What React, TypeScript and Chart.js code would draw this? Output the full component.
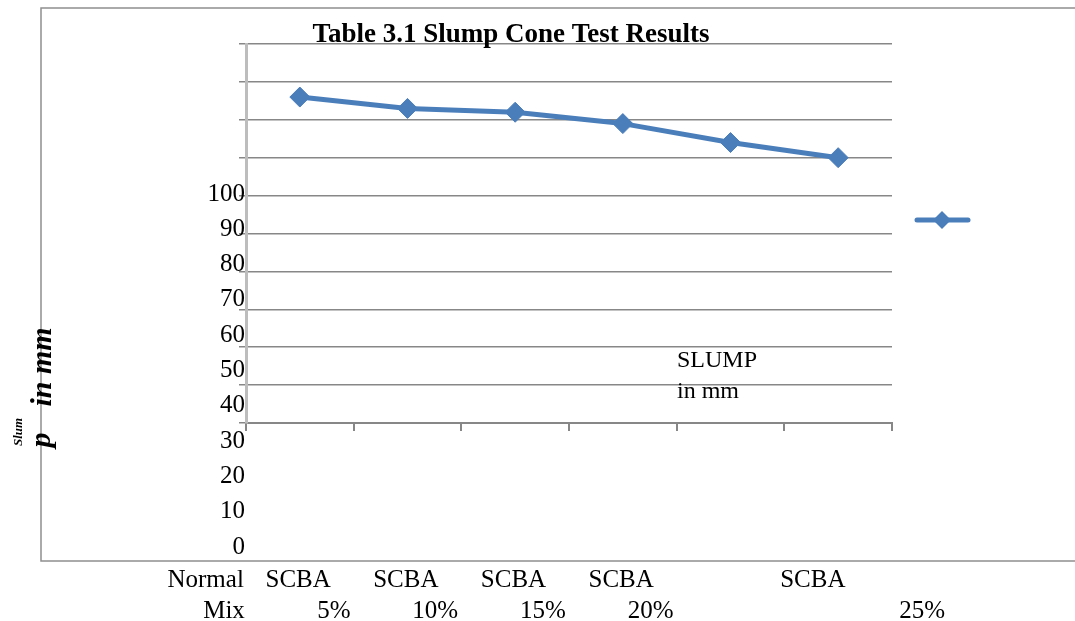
import React, { useEffect, useRef } from 'react';
import { Chart, registerables } from 'chart.js';

Chart.register(...registerables);

const titleText = 'Table 3.1 Slump Cone Test Results';
const categoryLine1 = ['Normal', 'SCBA', 'SCBA', 'SCBA', 'SCBA', 'SCBA'];
const categoryLine2 = ['Mix', '5%', '10%', '15%', '20%', '25%'];
const slumpValues = [86, 83, 82, 79, 74, 70];
const yTickValues = [100, 90, 80, 70, 60, 50, 40, 30, 20, 10, 0];
const seriesName = ['SLUMP', 'in mm'];
const axisTitleParts = ['Slum', 'p', 'in mm'];

const SERIF = "'Liberation Serif', 'Times New Roman', serif";
const BLUE = '#4a7ebb';
const GRID = '#878787';

export default function App() {
  const ref = useRef<HTMLCanvasElement>(null);

  useEffect(() => {
    const canvas = ref.current;
    if (!canvas) return;

    const decor = {
      id: 'decor',
      beforeDraw(chart: any) {
        const ctx = chart.ctx;
        const a = chart.chartArea;
        ctx.save();
        ctx.fillStyle = '#ffffff';
        ctx.fillRect(0, 0, chart.width, chart.height);
        // outer frame
        ctx.strokeStyle = '#8f8f8f';
        ctx.lineWidth = 1.5;
        ctx.beginPath();
        ctx.moveTo(chart.width + 2, a.top - 36);
        ctx.lineTo(a.left - 205, a.top - 36);
        ctx.lineTo(a.left - 205, a.bottom + 138);
        ctx.lineTo(chart.width + 2, a.bottom + 138);
        ctx.stroke();
        ctx.restore();
      },
      afterDraw(chart: any) {
        const ctx = chart.ctx;
        const a = chart.chartArea;
        const xs = chart.scales.x;
        ctx.save();
        ctx.fillStyle = '#000000';

        // title
        ctx.font = `bold 27px ${SERIF}`;
        ctx.textAlign = 'center';
        ctx.textBaseline = 'alphabetic';
        ctx.fillText(titleText, a.left + 265, a.top - 2);

        // y tick label column (displaced, as in the reference)
        ctx.font = `25px ${SERIF}`;
        ctx.textAlign = 'right';
        const y0 = a.bottom + 122;
        const y100 = a.top + 148;
        yTickValues.forEach((v) => {
          const y = y0 + ((y100 - y0) * v) / 100;
          ctx.fillText(String(v), a.left - 1, y + 8.5);
        });

        // category labels (displaced, as in the reference)
        const l1Off = [-56, -142, -142, -142, -142, -58];
        const l1Align = ['right', 'left', 'left', 'left', 'left', 'left'];
        const l2Off = [-55, -57, -57, -57, -57, 107];
        categoryLine1.forEach((t, i) => {
          const c = xs.getPixelForValue(i);
          ctx.textAlign = l1Align[i] as CanvasTextAlign;
          ctx.fillText(t, c + l1Off[i], a.bottom + 164);
        });
        categoryLine2.forEach((t, i) => {
          const c = xs.getPixelForValue(i);
          ctx.textAlign = 'right';
          ctx.fillText(t, c + l2Off[i], a.bottom + 195);
        });

        // series label inside plot
        ctx.font = `24px ${SERIF}`;
        ctx.textAlign = 'left';
        ctx.fillText(seriesName[0], a.left + 431, a.top + 323);
        ctx.fillText(seriesName[1], a.left + 431, a.top + 354);

        // legend sample
        const ly = a.top + 176;
        ctx.strokeStyle = BLUE;
        ctx.lineWidth = 5;
        ctx.lineCap = 'round';
        ctx.beginPath();
        ctx.moveTo(a.right + 25, ly);
        ctx.lineTo(a.right + 76, ly);
        ctx.stroke();
        ctx.fillStyle = BLUE;
        const lx = a.right + 50;
        const r = 9;
        ctx.beginPath();
        ctx.moveTo(lx, ly - r);
        ctx.lineTo(lx + r, ly);
        ctx.lineTo(lx, ly + r);
        ctx.lineTo(lx - r, ly);
        ctx.closePath();
        ctx.fill();

        // garbled y-axis title
        ctx.fillStyle = '#000000';
        const drawRot = (text: string, x: number, y: number, font: string) => {
          ctx.save();
          ctx.translate(x, y);
          ctx.rotate(-Math.PI / 2);
          ctx.font = font;
          ctx.textAlign = 'center';
          ctx.textBaseline = 'alphabetic';
          ctx.fillText(text, 0, 0);
          ctx.restore();
        };
        drawRot(axisTitleParts[2], a.left - 195, a.top + 323, `italic bold 30px ${SERIF}`);
        drawRot(axisTitleParts[1], a.left - 196, a.top + 396, `italic bold 30px ${SERIF}`);
        drawRot(axisTitleParts[0], a.left - 224, a.top + 388, `italic bold 13px ${SERIF}`);

        ctx.restore();
      },
    };

    const chart = new Chart(canvas, {
      type: 'line',
      data: {
        labels: categoryLine1.map((t, i) => `${t} ${categoryLine2[i]}`),
        datasets: [
          {
            label: seriesName.join(' '),
            data: slumpValues,
            borderColor: BLUE,
            backgroundColor: BLUE,
            borderWidth: 5,
            pointStyle: 'rectRot',
            pointRadius: 10,
            pointBorderWidth: 1,
            pointBackgroundColor: BLUE,
            pointBorderColor: BLUE,
            tension: 0,
            borderCapStyle: 'round',
            borderJoinStyle: 'round',
          },
        ],
      },
      options: {
        responsive: false,
        animation: false,
        devicePixelRatio: 1,
        layout: { padding: { left: 239, top: 44, right: 183, bottom: 190 } },
        plugins: {
          legend: { display: false },
          title: { display: false },
          tooltip: { enabled: false },
        },
        scales: {
          x: {
            offset: true,
            ticks: { display: false },
            grid: {
              display: true,
              offset: true,
              drawOnChartArea: false,
              drawTicks: true,
              tickLength: 8,
              color: GRID,
              lineWidth: 2,
            },
            border: { display: true, color: GRID, width: 2 },
          },
          y: {
            min: 0,
            max: 100,
            ticks: { display: false, stepSize: 10 },
            grid: { color: GRID, lineWidth: 1.5, drawTicks: true, tickLength: 7 },
            border: { display: true, color: '#bdbdbd', width: 3 },
          },
        },
      },
      plugins: [decor],
    } as any);

    return () => chart.destroy();
  }, []);

  return (
    <div style={{ position: 'fixed', left: 0, top: 0, width: 1075, height: 621, background: '#ffffff' }}>
      <canvas ref={ref} width={1075} height={621} style={{ display: 'block' }} />
    </div>
  );
}
